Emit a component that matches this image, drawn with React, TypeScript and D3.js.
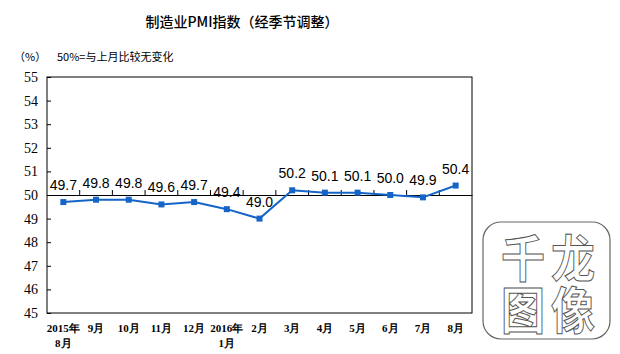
import * as React from 'react';
import * as d3 from 'd3';

const months = ['2015年|8月', '9月', '10月', '11月', '12月', '2016年|1月', '2月', '3月', '4月', '5月', '6月', '7月', '8月'];
const pmi = [49.7, 49.8, 49.8, 49.6, 49.7, 49.4, 49.0, 50.2, 50.1, 50.1, 50.0, 49.9, 50.4];
const yTicks = [45, 46, 47, 48, 49, 50, 51, 52, 53, 54, 55];

const title = '制造业PMI指数（经季节调整）';
const note = '50%=与上月比较无变化';
const markCols = ['千图', '龙像'];

const W = 620;
const H = 354;
const m = { top: 77, left: 47, right: 148, bottom: 41 };
const blue = '#1565c8';
const cjk = '"Noto Sans CJK SC", sans-serif';
const serif = '"Liberation Serif", "DejaVu Serif", serif';

export default function App() {
    const ref = React.useRef<SVGSVGElement>(null);

    React.useEffect(() => {
        const svg = d3.select(ref.current);
        svg.selectAll('*').remove();

        const x = d3.scaleBand<number>()
            .domain(d3.range(months.length))
            .range([m.left, W - m.right]);
        const y = d3.scaleLinear()
            .domain([45, 55])
            .range([H - m.bottom, m.top]);
        const cx = (i) => x(i) + x.bandwidth() / 2;

        // title and notes
        svg.append('text')
            .attr('x', 242).attr('y', 27)
            .attr('text-anchor', 'middle')
            .style('font-family', cjk).style('font-size', '14px').style('font-weight', 500)
            .text(title);
        svg.append('text')
            .attr('x', 14).attr('y', 61)
            .style('font-family', cjk).style('font-size', '11px')
            .text('（%）');
        svg.append('text')
            .attr('x', 57).attr('y', 61)
            .style('font-family', cjk).style('font-size', '11px')
            .text(note);

        // frame
        svg.append('rect')
            .attr('x', m.left).attr('y', m.top)
            .attr('width', W - m.left - m.right).attr('height', H - m.top - m.bottom)
            .attr('fill', 'none').attr('stroke', '#000').attr('stroke-width', 1);

        // y axis
        const yAxis = d3.axisRight(y).tickValues(yTicks).tickSize(4).tickFormat(() => '');
        svg.append('g')
            .attr('transform', 'translate(' + m.left + ',0)')
            .call(yAxis)
            .call(g => g.select('.domain').remove())
            .call(g => g.selectAll('line').attr('stroke', '#000'));
        svg.append('g').selectAll('text')
            .data(yTicks)
            .enter()
            .append('text')
            .attr('x', 38)
            .attr('y', d => y(d) + 5)
            .attr('text-anchor', 'end')
            .style('font-family', serif).style('font-size', '14px')
            .text(d => d);

        // baseline at 50 with ticks
        const xAxis = d3.axisTop(x).tickSize(0).tickFormat(() => '');
        svg.append('g')
            .attr('transform', 'translate(0,' + y(50) + ')')
            .call(xAxis)
            .call(g => g.select('.domain').attr('stroke', '#000'));
        svg.append('g').selectAll('line')
            .data(d3.range(1, months.length))
            .enter()
            .append('line')
            .attr('x1', d => x(d)).attr('x2', d => x(d))
            .attr('y1', y(50)).attr('y2', y(50) - 5)
            .attr('stroke', '#000');

        // x labels
        const xl = svg.append('g').selectAll('text')
            .data(months)
            .enter()
            .append('text')
            .attr('text-anchor', 'middle')
            .style('font-family', serif).style('font-size', '11px').style('font-weight', 'bold');
        xl.each(function (d, i) {
            const parts = d.split('|');
            parts.forEach((p, k) => {
                d3.select(this).append('tspan')
                    .attr('x', cx(i))
                    .attr('y', 332 + k * 15)
                    .text(p);
            });
        });

        // line
        const line = d3.line<number>()
            .x((d, i) => cx(i))
            .y(d => y(d));
        svg.append('path')
            .datum(pmi)
            .attr('d', line)
            .attr('fill', 'none').attr('stroke', blue).attr('stroke-width', 2);
        svg.append('g').selectAll('rect')
            .data(pmi)
            .enter()
            .append('rect')
            .attr('x', (d, i) => cx(i) - 3)
            .attr('y', d => y(d) - 3)
            .attr('width', 6).attr('height', 6)
            .attr('fill', blue);
        svg.append('g').selectAll('text')
            .data(pmi)
            .enter()
            .append('text')
            .attr('x', (d, i) => cx(i))
            .attr('y', d => y(d) - 12)
            .attr('text-anchor', 'middle')
            .style('font-family', '"Liberation Sans", Arial, sans-serif').style('font-size', '14px')
            .text(d => d.toFixed(1));

        // watermark: two vertical columns of hollow glyphs
        const wm = svg.append('g');
        wm.append('rect')
            .attr('x', 483).attr('y', 222).attr('width', 127).attr('height', 117)
            .attr('rx', 18)
            .attr('fill', '#fff').attr('stroke', '#666').attr('stroke-width', 1.2);
        const sx = 1.1, sy = 1.25;
        markCols.forEach((t, i) => {
            wm.append('text')
                .attr('transform', 'scale(' + sx + ',' + sy + ')')
                .attr('x', (523 + i * 50) / sx)
                .attr('y', 233 / sy)
                .attr('writing-mode', 'vertical-rl')
                .style('writing-mode', 'vertical-rl')
                .style('letter-spacing', '2px')
                .style('font-family', cjk).style('font-size', '40px').style('font-weight', 'bold')
                .attr('fill', '#fff').attr('stroke', '#555').attr('stroke-width', 0.8)
                .text(t);
        });
    }, []);

    return (
        <svg ref={ref} width={W} height={H} style={{ position: 'absolute', left: 0, top: 0, background: '#fff' }} />
    );
}
